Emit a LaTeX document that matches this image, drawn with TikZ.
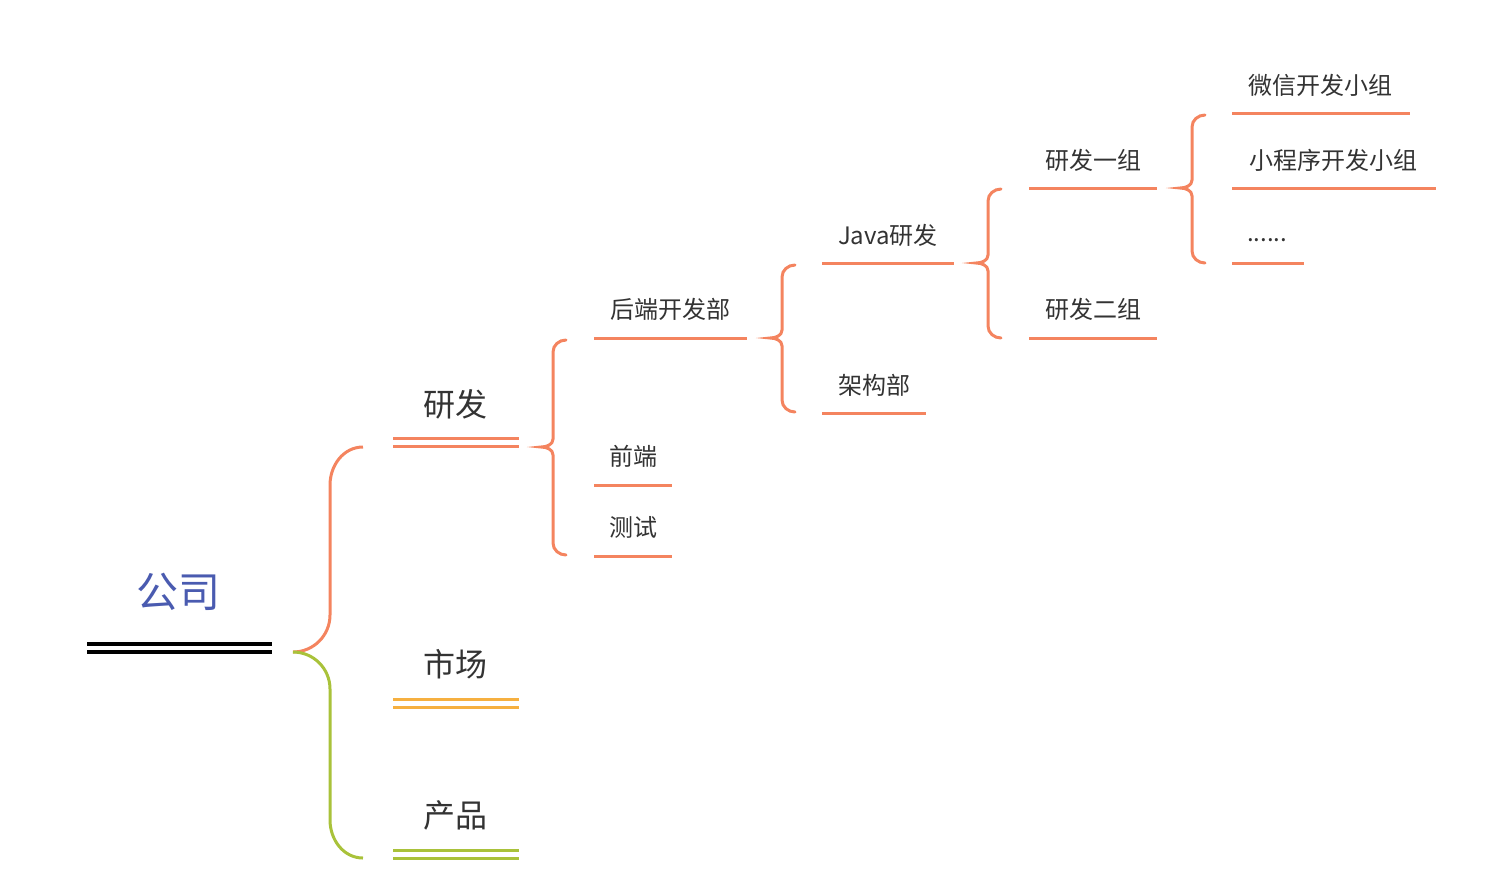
\documentclass[tikz,border=0pt]{standalone}
\usepackage{fontspec}
\setmainfont{Noto Sans CJK SC}
\definecolor{org}{HTML}{F4845F}
\definecolor{yel}{HTML}{F6B040}
\definecolor{grn}{HTML}{A9C23A}
\definecolor{txt}{HTML}{333333}
\definecolor{blu}{HTML}{4A5BB0}
\newcommand\mmbrace[5][org]{% color, x, top, bottom, tip y
  \draw[#1,line width=1.5pt,line cap=round] (#2+13,#3) to[out=180,in=90] (#2,#3+12) -- (#2,#5-8) to[out=-90,in=0] (#2-12,#5) to[out=0,in=90] (#2,#5+8) -- (#2,#4-12) to[out=-90,in=180] (#2+13,#4);}
\begin{document}
\begin{tikzpicture}[x=0.5pt,y=-0.5pt,
  lbl/.style={text=txt,font=\fontsize{12}{12}\selectfont,inner sep=0},
  ul/.style={org,line width=1.5pt}]
\useasboundingbox (0,0) rectangle (1486,895);
% root
\node[text=blu,font=\fontsize{21}{21}\selectfont,inner sep=0] (root) at (178,592) {公司};
\draw[black,line width=2pt] (87,644) -- (272,644) (87,652) -- (272,652);
\draw[org,line width=1.5pt] (293,652) to[out=0,in=-90] (330,615) -- (330,485) to[out=90,in=180] (363,447);
\draw[grn,line width=1.5pt] (293,652) to[out=0,in=90] (330,689) -- (330,820) to[out=-90,in=180] (363,858);
% level 1
\node[lbl,font=\fontsize{16}{16}\selectfont] (yf) at (455,404) {研发};
\draw[org,line width=1.5pt] (393,438) -- (519,438) (393,446) -- (519,446);
\node[lbl,font=\fontsize{16}{16}\selectfont] (sc) at (455,664) {市场};
\draw[yel,line width=1.5pt] (393,699) -- (519,699) (393,707) -- (519,707);
\node[lbl,font=\fontsize{16}{16}\selectfont] (cp) at (455,815) {产品};
\draw[grn,line width=1.5pt] (393,850) -- (519,850) (393,858) -- (519,858);
% level 2
\mmbrace{553}{340}{555}{447}
\node[lbl] (hd) at (670,309) {后端开发部};
\draw[ul] (594,338) -- (747,338);
\node[lbl] (qd) at (633,456) {前端};
\draw[ul] (594,485) -- (672,485);
\node[lbl] (cs) at (633,527) {测试};
\draw[ul] (594,556) -- (672,556);
% level 3
\mmbrace{782}{265}{412}{338}
\node[lbl] (java) at (888,235) {Java研发};
\draw[ul] (822,263) -- (954,263);
\node[lbl] (jg) at (874,385) {架构部};
\draw[ul] (822,413) -- (926,413);
% level 4
\mmbrace{988}{189}{338}{263}
\node[lbl] (z1) at (1093,160) {研发一组};
\draw[ul] (1029,188) -- (1157,188);
\node[lbl] (z2) at (1093,309) {研发二组};
\draw[ul] (1029,338) -- (1157,338);
% level 5
\mmbrace{1192}{115}{263}{188}
\node[lbl] (wx) at (1320,85) {微信开发小组};
\draw[ul] (1232,113) -- (1410,113);
\node[lbl] (xcx) at (1333,160) {小程序开发小组};
\draw[ul] (1232,188) -- (1436,188);
\node[lbl] (dots) at (1267,240) {......};
\draw[ul] (1232,263) -- (1304,263);
\end{tikzpicture}
\end{document}
